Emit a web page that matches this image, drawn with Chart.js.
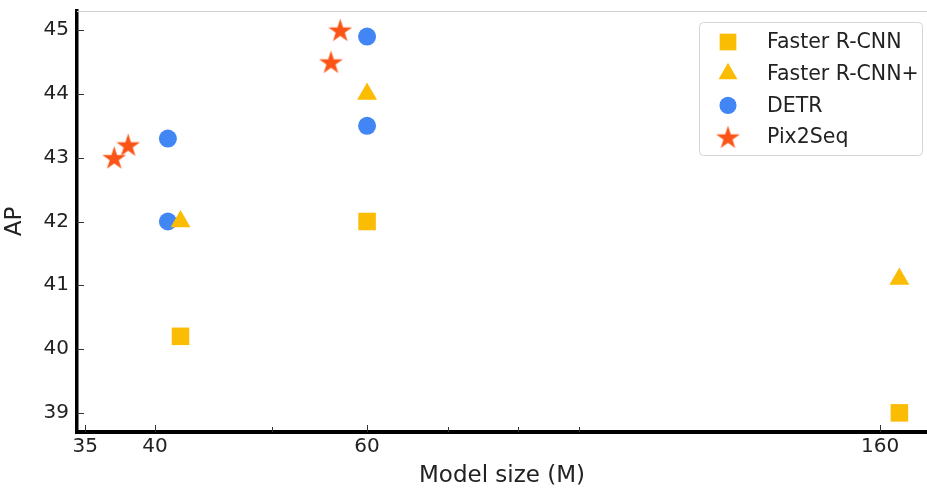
<!DOCTYPE html>
<html lang="en">
<head>
  <meta charset="UTF-8">
  <title>AP vs Model size</title>
  <script src="https://cdn.jsdelivr.net/npm/chart.js"></script>
  <style>
    html, body { margin: 0; padding: 0; background: #fff; }
    #wrap { width: 927px; height: 490px; }
  </style>
</head>
<body>
  <div id="wrap"><canvas id="chart"></canvas></div>

  <script>
    // data (x = model size in M, y = AP)
    const seriesNames = ['Faster R-CNN', 'Faster R-CNN+', 'DETR', 'Pix2Seq'];
    const fasterSize = [42, 60, 166];
    const fasterAP = [40.2, 42.0, 39.0];
    const fasterPlusSize = [42, 60, 166];
    const fasterPlusAP = [42.0, 44.0, 41.1];
    const detrSize = [41, 41, 60, 60];
    const detrAP = [42.0, 43.3, 43.5, 44.9];
    const pixSize = [37, 38, 56, 57];
    const pixAP = [43.0, 43.2, 44.5, 45.0];

    const xTicks = [35, 40, 60, 160];
    const xMinorTicks = [50, 70, 80, 90];
    const yTicks = [39, 40, 41, 42, 43, 44, 45];

    const YELLOW = '#fbbc04';
    const BLUE = '#4285f4';
    const RED = '#fa5516';
    const FONT = "'DejaVu Sans', sans-serif";

    // filled five point star, chart.js "star" is only a stroked asterisk
    function makeStar(color, r) {
      const size = Math.ceil(r * 2 + 2);
      const c = document.createElement('canvas');
      c.width = size; c.height = size;
      const g = c.getContext('2d');
      const cx = size / 2, cy = size / 2 + 1, inner = r * 0.382;
      g.fillStyle = color;
      g.beginPath();
      for (let i = 0; i < 10; i++) {
        const rad = i % 2 ? inner : r;
        const ang = -Math.PI / 2 + i * Math.PI / 5;
        const px = cx + rad * Math.cos(ang), py = cy + rad * Math.sin(ang);
        i ? g.lineTo(px, py) : g.moveTo(px, py);
      }
      g.closePath();
      g.fill();
      return c;
    }
    const starImg = makeStar(RED, 12.5);

    const toPoints = (xs, ys) => xs.map((v, i) => ({ x: v, y: ys[i] }));

    const datasets = [
      { label: seriesNames[0], data: toPoints(fasterSize, fasterAP), pointStyle: 'rect', pointRadius: 12.4, backgroundColor: YELLOW },
      { label: seriesNames[1], data: toPoints(fasterPlusSize, fasterPlusAP), pointStyle: 'triangle', pointRadius: 11.5, backgroundColor: YELLOW },
      { label: seriesNames[2], data: toPoints(detrSize, detrAP), pointStyle: 'circle', pointRadius: 9, backgroundColor: BLUE },
      { label: seriesNames[3], data: toPoints(pixSize, pixAP), pointStyle: starImg, pointRadius: 12, backgroundColor: RED }
    ].map(d => Object.assign(d, { borderWidth: 0, borderColor: d.backgroundColor, pointHoverRadius: d.pointRadius }));

    // inward ticks, light top spine
    const axisDecor = {
      id: 'axisDecor',
      beforeDatasetsDraw(chart) {
        const { ctx, chartArea: a, scales: { x, y } } = chart;
        ctx.save();
        ctx.lineWidth = 1;
        ctx.strokeStyle = '#cfcfcf';
        ctx.beginPath();
        ctx.moveTo(a.left, a.top + 0.5);
        ctx.lineTo(a.right, a.top + 0.5);
        ctx.stroke();

        ctx.strokeStyle = '#333';
        ctx.beginPath();
        xTicks.forEach(v => {
          const px = Math.round(x.getPixelForValue(v)) + 0.5;
          ctx.moveTo(px, a.bottom); ctx.lineTo(px, a.bottom - 7);
        });
        xMinorTicks.forEach(v => {
          const px = Math.round(x.getPixelForValue(v)) + 0.5;
          ctx.moveTo(px, a.bottom); ctx.lineTo(px, a.bottom - 5);
        });
        yTicks.forEach(v => {
          const py = Math.round(y.getPixelForValue(v)) + 0.5;
          ctx.moveTo(a.left, py); ctx.lineTo(a.left + 7, py);
        });
        ctx.stroke();
        ctx.restore();
      }
    };

    // boxed legend in the upper right corner
    const boxLegend = {
      id: 'boxLegend',
      afterDraw(chart) {
        const { ctx } = chart;
        const bx = 699, by = 22, bw = 223, bh = 133;
        ctx.save();
        ctx.fillStyle = 'rgba(255,255,255,0.8)';
        ctx.strokeStyle = '#d4d4d4';
        ctx.lineWidth = 1;
        ctx.beginPath();
        ctx.roundRect(bx + 0.5, by + 0.5, bw, bh, 4);
        ctx.fill();
        ctx.stroke();

        ctx.font = '20.5px ' + FONT;
        ctx.textBaseline = 'middle';
        chart.data.datasets.forEach((ds, i) => {
          const cy = 42 + i * 31.7;
          ctx.fillStyle = ds.backgroundColor;
          Chart.helpers.drawPoint(ctx, {
            pointStyle: ds.pointStyle, radius: ds.pointRadius * 0.95, rotation: 0, borderWidth: 0
          }, 728, cy);
          ctx.fillStyle = '#222';
          ctx.fillText(ds.label, 767, cy + 1);
        });
        ctx.restore();
      }
    };

    new Chart(document.getElementById('chart'), {
      type: 'scatter',
      data: { datasets },
      options: {
        responsive: true,
        maintainAspectRatio: false,
        animation: false,
        layout: { autoPadding: false, padding: { top: 11, right: 0, left: 0, bottom: 0 } },
        plugins: { legend: { display: false }, tooltip: { enabled: false } },
        scales: {
          x: {
            type: 'logarithmic',
            min: 34.46,
            max: 175,
            afterBuildTicks: s => { s.ticks = xTicks.map(v => ({ value: v })); },
            afterFit: s => { s.height = 58; s.paddingLeft = 0; s.paddingRight = 0; },
            ticks: {
              autoSkip: false, maxRotation: 0, padding: 3,
              color: '#222', font: { family: FONT, size: 20 },
              callback: v => String(v)
            },
            grid: { display: true, drawOnChartArea: false, drawTicks: false },
            border: { display: true, color: '#000', width: 4 },
            title: { display: true, text: 'Model size (M)', color: '#222', font: { family: FONT, size: 23 }, padding: 0 }
          },
          y: {
            min: 38.7,
            max: 45.3,
            afterBuildTicks: s => { s.ticks = yTicks.map(v => ({ value: v })); },
            afterFit: s => { s.width = 77; s.paddingTop = 0; s.paddingBottom = 0; },
            ticks: {
              padding: 8, color: '#222', font: { family: FONT, size: 20 },
              callback: v => String(v)
            },
            grid: { display: true, drawOnChartArea: false, drawTicks: false },
            border: { display: true, color: '#000', width: 3.5 },
            title: { display: true, text: 'AP', color: '#222', font: { family: FONT, size: 23 }, padding: 1 }
          }
        }
      },
      plugins: [axisDecor, boxLegend]
    });
  </script>
</body>
</html>
